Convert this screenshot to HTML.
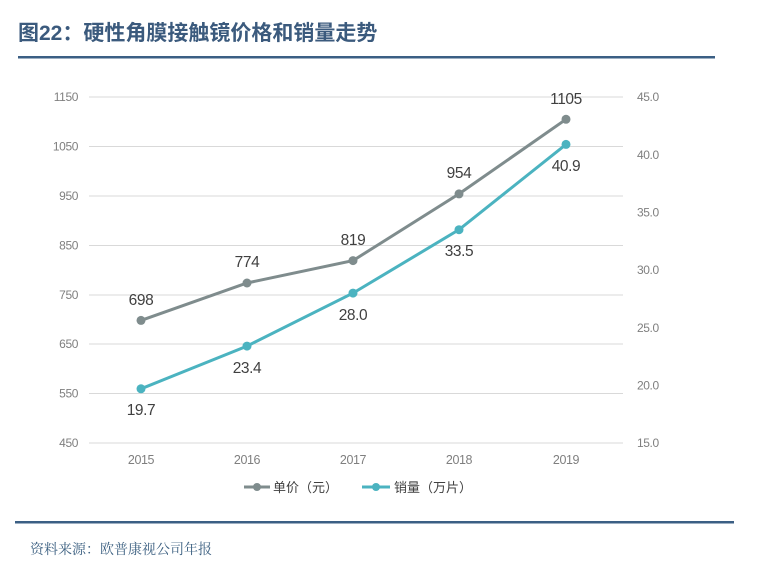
<!DOCTYPE html>
<html><head><meta charset="utf-8"><style>
body{margin:0;background:#fff;width:760px;height:572px;overflow:hidden}
svg{display:block}
</style></head><body>
<svg width="760" height="572" xmlns="http://www.w3.org/2000/svg" font-family="Liberation Sans, Noto Sans CJK SC, sans-serif">
<text x="18" y="40" font-size="21" font-weight="bold" fill="#3b5a7d" font-family="Liberation Sans, Noto Sans CJK SC, sans-serif">图22：硬性角膜接触镜价格和销量走势</text>
<rect x="18" y="56" width="697" height="2.5" fill="#3b5f84"/>
<g stroke="#d9d9d9" stroke-width="1">
<line x1="89" x2="623" y1="97" y2="97"/><line x1="89" x2="623" y1="146.5" y2="146.5"/>
<line x1="89" x2="623" y1="196" y2="196"/><line x1="89" x2="623" y1="245.5" y2="245.5"/>
<line x1="89" x2="623" y1="295" y2="295"/><line x1="89" x2="623" y1="344" y2="344"/>
<line x1="89" x2="623" y1="393.5" y2="393.5"/><line x1="89" x2="623" y1="443" y2="443"/>
</g>
<g font-size="12" fill="#7f7f7f" text-anchor="end" letter-spacing="-0.4">
<text x="78" y="101">1150</text><text x="78" y="150.5">1050</text><text x="78" y="200">950</text>
<text x="78" y="249.5">850</text><text x="78" y="299">750</text><text x="78" y="348">650</text>
<text x="78" y="397.5">550</text><text x="78" y="447">450</text>
</g>
<g font-size="12" fill="#7f7f7f" letter-spacing="-0.4">
<text x="637" y="101">45.0</text><text x="637" y="159">40.0</text><text x="637" y="216.5">35.0</text>
<text x="637" y="274">30.0</text><text x="637" y="332">25.0</text><text x="637" y="389.5">20.0</text>
<text x="637" y="447">15.0</text>
</g>
<g font-size="12.5" fill="#7f7f7f" text-anchor="middle" letter-spacing="-0.4">
<text x="141" y="464">2015</text><text x="247" y="464">2016</text><text x="353" y="464">2017</text>
<text x="459" y="464">2018</text><text x="566" y="464">2019</text>
</g>
<polyline points="141,320.4 247,283 353,260.6 459,193.9 566,119.3" fill="none" stroke="#7f8c8d" stroke-width="3"/>
<g fill="#7f8c8d"><circle cx="141" cy="320.4" r="4.5"/><circle cx="247" cy="283" r="4.5"/><circle cx="353" cy="260.6" r="4.5"/><circle cx="459" cy="193.9" r="4.5"/><circle cx="566" cy="119.3" r="4.5"/></g>
<polyline points="141,388.8 247,346.1 353,293.1 459,229.7 566,144.4" fill="none" stroke="#4bb3c0" stroke-width="3"/>
<g fill="#4bb3c0"><circle cx="141" cy="388.8" r="4.5"/><circle cx="247" cy="346.1" r="4.5"/><circle cx="353" cy="293.1" r="4.5"/><circle cx="459" cy="229.7" r="4.5"/><circle cx="566" cy="144.4" r="4.5"/></g>
<g font-size="15.5" fill="#404040" text-anchor="middle" letter-spacing="-0.4">
<text x="141" y="305">698</text><text x="247" y="267">774</text><text x="353" y="245">819</text>
<text x="459" y="178">954</text><text x="566" y="104">1105</text>
<text x="141" y="415">19.7</text><text x="247" y="373">23.4</text><text x="353" y="320">28.0</text>
<text x="459" y="256">33.5</text><text x="566" y="171">40.9</text>
</g>
<line x1="244" x2="270" y1="487" y2="487" stroke="#7f8c8d" stroke-width="3"/><circle cx="257" cy="487" r="4" fill="#7f8c8d"/>
<text x="273" y="492" font-size="13" fill="#404040">单价（元）</text>
<line x1="362" x2="390" y1="487" y2="487" stroke="#4bb3c0" stroke-width="3"/><circle cx="376" cy="487" r="4" fill="#4bb3c0"/>
<text x="394" y="492" font-size="13" fill="#404040">销量（万片）</text>
<rect x="15" y="521" width="719" height="2.5" fill="#3b5f84"/>
<text x="30" y="554" font-size="14" fill="#3b5f80" font-family="Noto Serif CJK SC, serif">资料来源：欧普康视公司年报</text>
</svg>
</body></html>
